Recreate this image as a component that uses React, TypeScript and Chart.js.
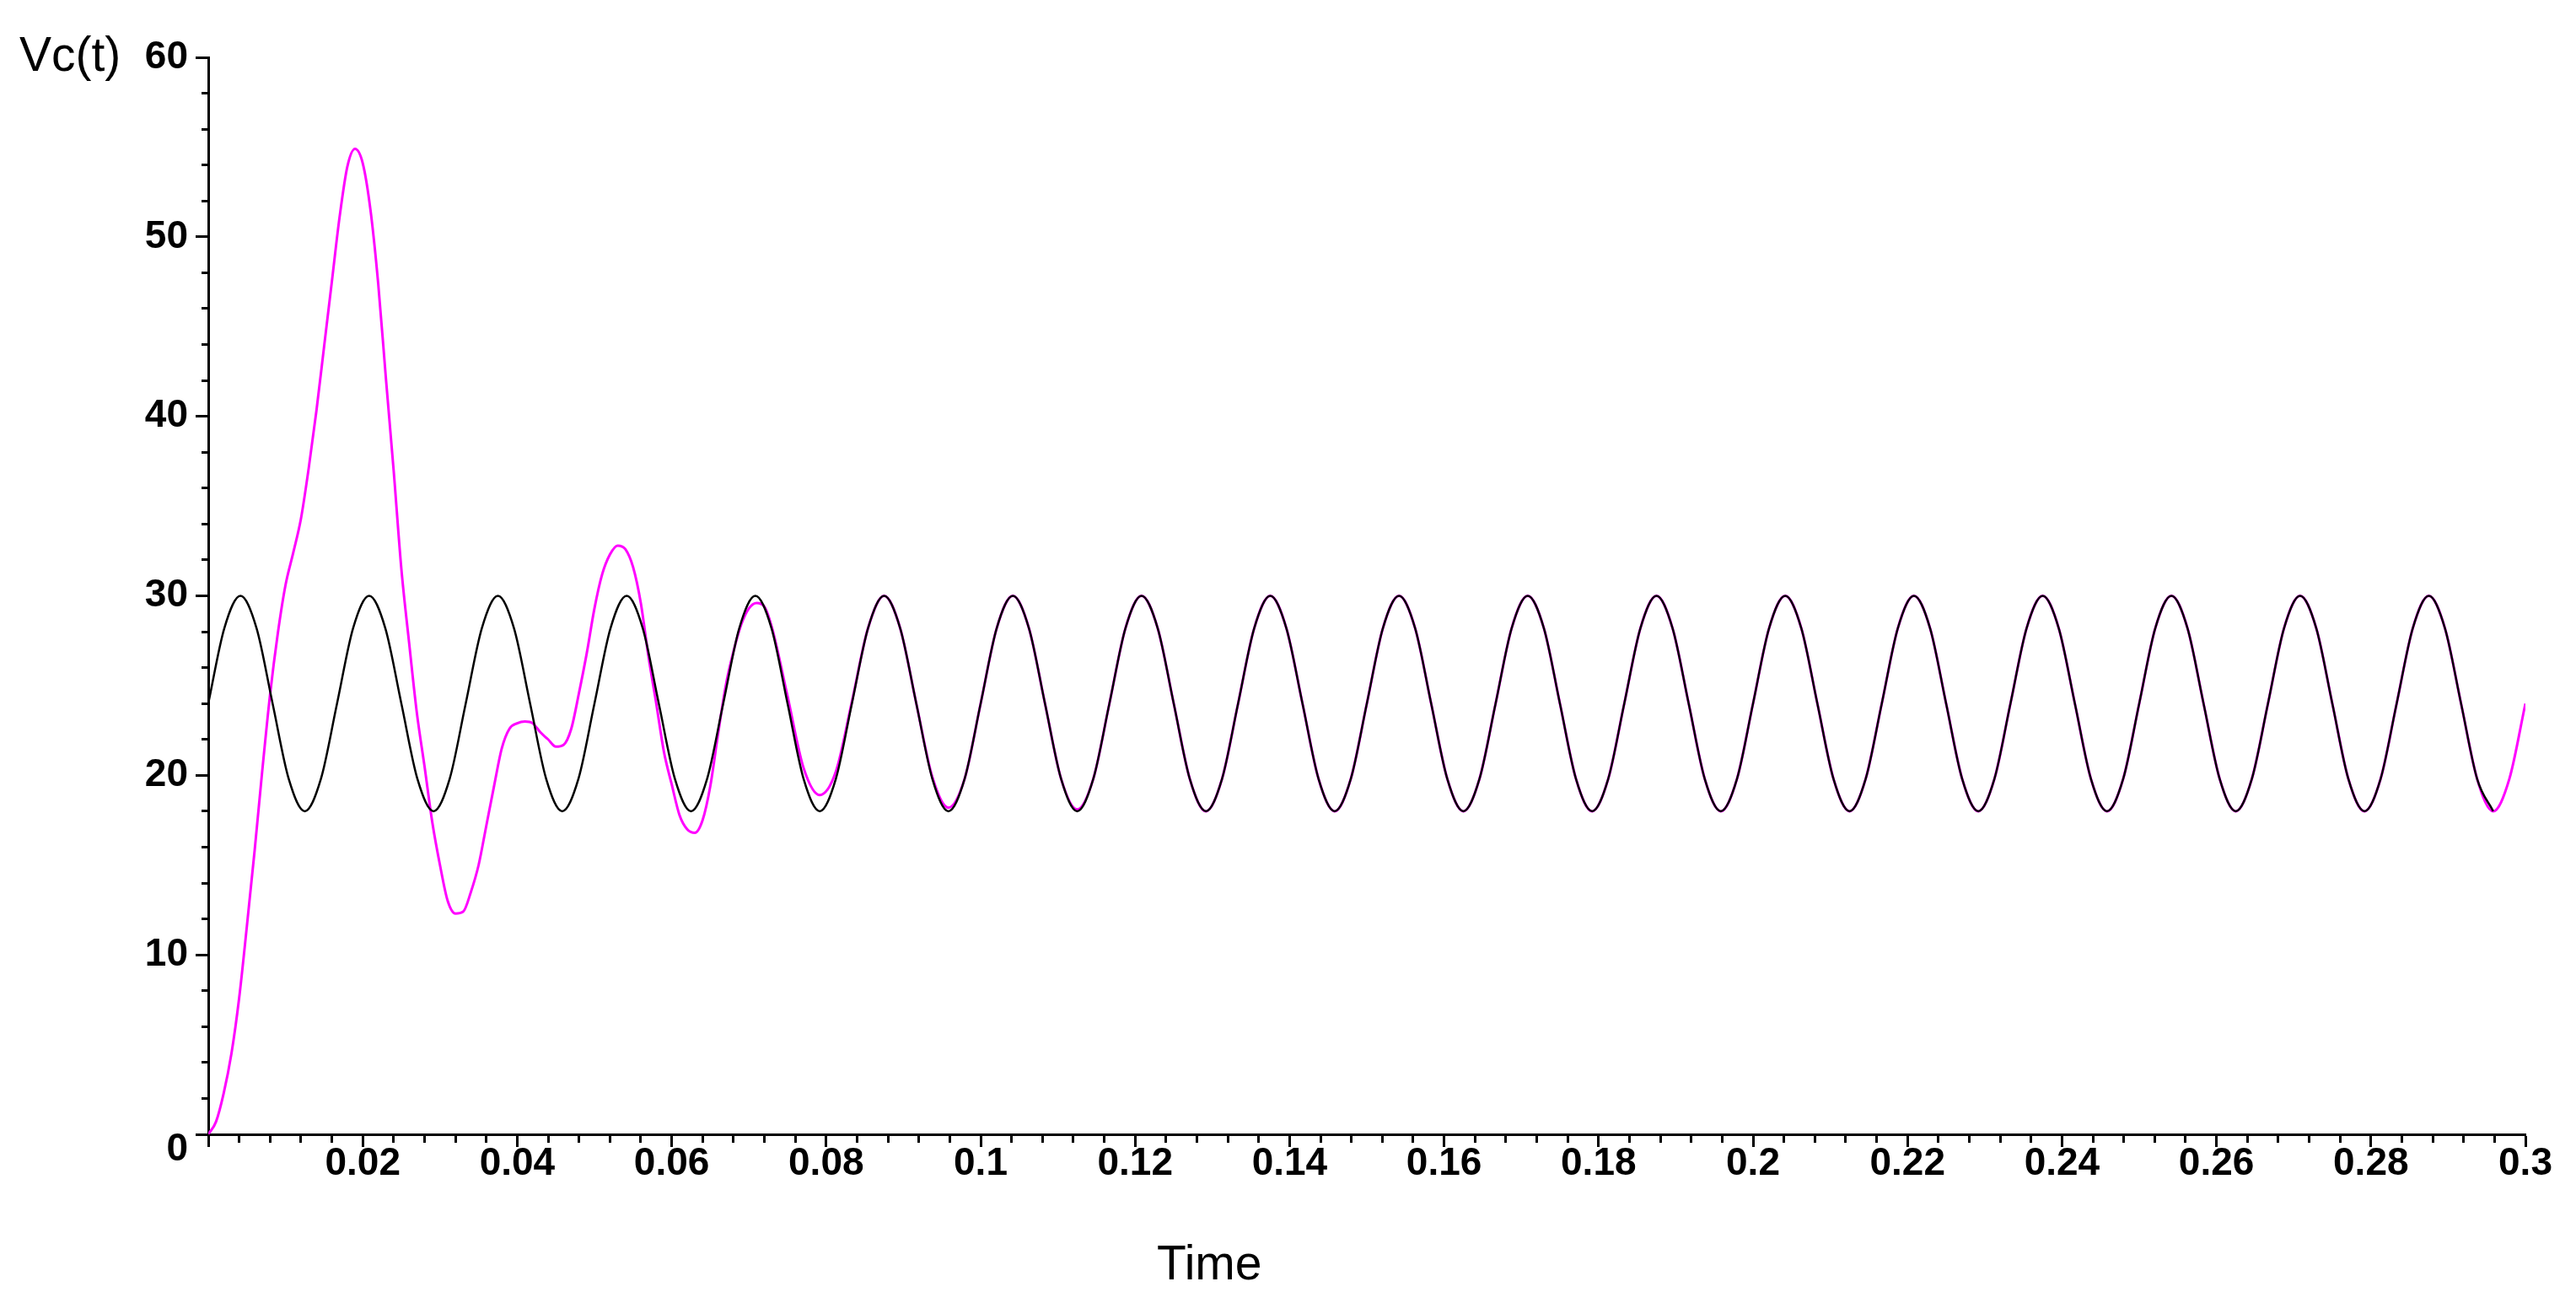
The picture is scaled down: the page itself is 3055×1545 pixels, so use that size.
import React, { useEffect, useRef } from 'react';
import { Chart, registerables } from 'chart.js';

Chart.register(...registerables);

// Shared time grid (s), one sample every 1/8 of the 60 Hz period
const gridTimes = [
  0, 0.00208, 0.00417, 0.00625, 0.00833, 0.01042, 0.0125, 0.01458,
  0.01667, 0.01875, 0.02083, 0.02292, 0.025, 0.02708, 0.02917, 0.03125,
  0.03333, 0.03542, 0.0375, 0.03958, 0.04167, 0.04375, 0.04583, 0.04792,
  0.05, 0.05208, 0.05417, 0.05625, 0.05833, 0.06042, 0.0625, 0.06458,
  0.06667, 0.06875, 0.07083, 0.07292, 0.075, 0.07708, 0.07917, 0.08125,
  0.08333, 0.08542, 0.0875, 0.08958, 0.09167, 0.09375, 0.09583, 0.09792,
  0.1, 0.10208, 0.10417, 0.10625, 0.10833, 0.11042, 0.1125, 0.11458,
  0.11667, 0.11875, 0.12083, 0.12292, 0.125, 0.12708, 0.12917, 0.13125,
  0.13333, 0.13542, 0.1375, 0.13958, 0.14167, 0.14375, 0.14583, 0.14792,
  0.15, 0.15208, 0.15417, 0.15625, 0.15833, 0.16042, 0.1625, 0.16458,
  0.16667, 0.16875, 0.17083, 0.17292, 0.175, 0.17708, 0.17917, 0.18125,
  0.18333, 0.18542, 0.1875, 0.18958, 0.19167, 0.19375, 0.19583, 0.19792,
  0.2, 0.20208, 0.20417, 0.20625, 0.20833, 0.21042, 0.2125, 0.21458,
  0.21667, 0.21875, 0.22083, 0.22292, 0.225, 0.22708, 0.22917, 0.23125,
  0.23333, 0.23542, 0.2375, 0.23958, 0.24167, 0.24375, 0.24583, 0.24792,
  0.25, 0.25208, 0.25417, 0.25625, 0.25833, 0.26042, 0.2625, 0.26458,
  0.26667, 0.26875, 0.27083, 0.27292, 0.275, 0.27708, 0.27917, 0.28125,
  0.28333, 0.28542, 0.2875, 0.28958, 0.29167, 0.29375, 0.29583, 0.29792,
  0.3,
];

// Black curve: steady-state Vc(t) read on gridTimes (ends at the last trough)
const steadyValues = [
  24, 28.2, 30, 28.2, 24, 19.8, 18, 19.8,
  24, 28.2, 30, 28.2, 24, 19.8, 18, 19.8,
  24, 28.2, 30, 28.2, 24, 19.8, 18, 19.8,
  24, 28.2, 30, 28.2, 24, 19.8, 18, 19.8,
  24, 28.2, 30, 28.2, 24, 19.8, 18, 19.8,
  24, 28.2, 30, 28.2, 24, 19.8, 18, 19.8,
  24, 28.2, 30, 28.2, 24, 19.8, 18, 19.8,
  24, 28.2, 30, 28.2, 24, 19.8, 18, 19.8,
  24, 28.2, 30, 28.2, 24, 19.8, 18, 19.8,
  24, 28.2, 30, 28.2, 24, 19.8, 18, 19.8,
  24, 28.2, 30, 28.2, 24, 19.8, 18, 19.8,
  24, 28.2, 30, 28.2, 24, 19.8, 18, 19.8,
  24, 28.2, 30, 28.2, 24, 19.8, 18, 19.8,
  24, 28.2, 30, 28.2, 24, 19.8, 18, 19.8,
  24, 28.2, 30, 28.2, 24, 19.8, 18, 19.8,
  24, 28.2, 30, 28.2, 24, 19.8, 18, 19.8,
  24, 28.2, 30, 28.2, 24, 19.8, 18, 19.8,
  24, 28.2, 30, 28.2, 24, 19.8, 18,
];

// Magenta curve, start-up transient (s)
const transientTimes = [
  0, 0.001, 0.002, 0.003, 0.004, 0.005, 0.006, 0.007, 0.008, 0.009,
  0.01, 0.011, 0.012, 0.013, 0.014, 0.015, 0.016, 0.017, 0.018, 0.019,
  0.02, 0.021, 0.022, 0.023, 0.024, 0.025, 0.026, 0.027, 0.028, 0.029,
  0.03, 0.031, 0.032, 0.033, 0.034, 0.035, 0.036, 0.037, 0.038, 0.039,
  0.04, 0.041, 0.042, 0.043, 0.044, 0.045, 0.046, 0.047, 0.048, 0.049,
  0.05, 0.051, 0.052, 0.053, 0.054, 0.055, 0.056, 0.057, 0.058, 0.059,
  0.06, 0.061, 0.062, 0.063, 0.064, 0.065, 0.066, 0.067, 0.068, 0.069,
  0.07, 0.071, 0.072, 0.073,
];
const transientValues = [
  0, 0.7, 2.3, 4.5, 7.6, 11.6, 15.8, 20.3, 24.5, 27.9,
  30.6, 32.4, 34.3, 37.1, 40.3, 43.9, 47.5, 51.1, 53.9, 54.9,
  54.1, 51.5, 47.4, 42.1, 37.0, 31.5, 27.4, 23.5, 20.5, 17.4,
  15.0, 13.0, 12.3, 12.4, 13.5, 15.0, 17.2, 19.4, 21.5, 22.6,
  22.9, 23.0, 22.9, 22.4, 22.0, 21.6, 21.7, 22.6, 24.6, 26.8,
  29.3, 31.2, 32.3, 32.8, 32.6, 31.6, 29.6, 26.6, 24.0, 21.3,
  19.5, 17.8, 17.0, 16.8, 17.5, 19.4, 22.3, 25.0, 26.9, 28.4,
  29.3, 29.6, 29.4, 28.2,
];

// Magenta curve after the transient, read on gridTimes from index 36 (0.075 s) to 0.3 s
const tailStartIndex = 36;
const tailValues = [
  24.4, 20.4, 18.9, 20.2,
  24.1, 28.2, 30, 28.2, 24, 19.9, 18.2, 19.8,
  24, 28.2, 30, 28.2, 24, 19.8, 18.1, 19.8,
  24, 28.2, 30, 28.2, 24, 19.8, 18, 19.8,
  24, 28.2, 30, 28.2, 24, 19.8, 18, 19.8,
  24, 28.2, 30, 28.2, 24, 19.8, 18, 19.8,
  24, 28.2, 30, 28.2, 24, 19.8, 18, 19.8,
  24, 28.2, 30, 28.2, 24, 19.8, 18, 19.8,
  24, 28.2, 30, 28.2, 24, 19.8, 18, 19.8,
  24, 28.2, 30, 28.2, 24, 19.8, 18, 19.8,
  24, 28.2, 30, 28.2, 24, 19.8, 18, 19.8,
  24, 28.2, 30, 28.2, 24, 19.8, 18, 19.8,
  24, 28.2, 30, 28.2, 24, 19.8, 18, 19.8,
  24, 28.2, 30, 28.2, 24, 19.8, 18, 19.8,
  24,
];

// Axes (x in milliseconds internally, labelled in seconds)
const xMinMs = 0;
const xMaxMs = 300;
const xMinorStepMs = 4;
const xMajorStepMs = 20;
const yMin = 0;
const yMax = 60;
const yMinorStep = 2;
const yMajorStep = 10;

const TICK_FONT = '"Liberation Sans", Arial, sans-serif';

export default function App() {
  const canvasRef = useRef<HTMLCanvasElement | null>(null);

  useEffect(() => {
    const canvas = canvasRef.current;
    if (!canvas) return;

    const steady = steadyValues.map((v, i) => ({ x: gridTimes[i] * 1000, y: v }));
    const full = [
      ...transientTimes.map((t, i) => ({ x: t * 1000, y: transientValues[i] })),
      ...tailValues.map((v, i) => ({ x: gridTimes[tailStartIndex + i] * 1000, y: v })),
    ];

    const chart = new Chart(canvas, {
      type: 'line',
      data: {
        datasets: [
          {
            label: 'steady',
            data: steady,
            borderColor: '#000000',
            borderWidth: 2.5,
            pointRadius: 0,
            fill: false,
            cubicInterpolationMode: 'monotone',
            order: 0,
          },
          {
            label: 'full',
            data: full,
            borderColor: '#FF00FF',
            borderWidth: 3,
            pointRadius: 0,
            fill: false,
            cubicInterpolationMode: 'monotone',
            order: 1,
          },
        ],
      },
      options: {
        responsive: false,
        animation: false,
        devicePixelRatio: 1,
        layout: { padding: { left: 0, top: 68, right: 60, bottom: 0 } },
        plugins: {
          legend: { display: false },
          tooltip: { enabled: false },
          title: { display: false },
        },
        events: [],
        scales: {
          x: {
            type: 'linear',
            min: xMinMs,
            max: xMaxMs,
            offset: false,
            border: { display: true, color: '#000', width: 3 },
            grid: {
              display: true,
              drawOnChartArea: false,
              drawTicks: true,
              tickLength: 15,
              tickWidth: 3,
              tickColor: '#000',
              tickBorderDash: (ctx: any) =>
                ctx.tick && ctx.tick.value % xMajorStepMs !== 0 ? [8, 100] : [],
            },
            ticks: {
              stepSize: xMinorStepMs,
              autoSkip: false,
              maxRotation: 0,
              minRotation: 0,
              padding: 0,
              color: '#000',
              font: { family: TICK_FONT, size: 46, weight: 'bold', lineHeight: 0.9 },
              callback: (value: any) => {
                const v = Number(value);
                if (v === 0 || v % xMajorStepMs !== 0) return '';
                return String(v / 1000);
              },
            },
            afterFit: (scale: any) => {
              scale.height = 200;
            },
          },
          y: {
            type: 'linear',
            min: yMin,
            max: yMax,
            border: { display: true, color: '#000', width: 3 },
            grid: {
              display: true,
              drawOnChartArea: false,
              drawTicks: true,
              tickLength: 15,
              tickWidth: 3,
              tickColor: '#000',
              tickBorderDash: (ctx: any) =>
                ctx.tick && ctx.tick.value % yMajorStep !== 0 ? [0, 7, 8, 100] : [],
            },
            ticks: {
              stepSize: yMinorStep,
              autoSkip: false,
              padding: 9,
              color: '#000',
              font: { family: TICK_FONT, size: 46, weight: 'bold', lineHeight: '36px' },
              callback: (value: any) => {
                const v = Number(value);
                if (v % yMajorStep !== 0) return '';
                if (v === 0) return ['', '0'];
                return String(v);
              },
            },
            afterFit: (scale: any) => {
              scale.width = 247;
            },
          },
        },
      } as any,
    });

    return () => {
      chart.destroy();
    };
  }, []);

  return (
    <div
      style={{
        position: 'fixed',
        left: 0,
        top: 0,
        width: 3055,
        height: 1545,
        background: '#ffffff',
        overflow: 'hidden',
      }}
    >
      <canvas
        ref={canvasRef}
        width={3055}
        height={1545}
        style={{ display: 'block', width: 3055, height: 1545 }}
      />
      <div
        style={{
          position: 'absolute',
          left: 23,
          top: 36,
          fontFamily: '"Liberation Sans", Arial, sans-serif',
          fontSize: 57,
          lineHeight: '57px',
          color: '#000',
          whiteSpace: 'nowrap',
        }}
      >
        Vc(t)
      </div>
      <div
        style={{
          position: 'absolute',
          left: 1372,
          top: 1469,
          fontFamily: '"Liberation Sans", Arial, sans-serif',
          fontSize: 57,
          lineHeight: '57px',
          color: '#000',
          whiteSpace: 'nowrap',
        }}
      >
        Time
      </div>
    </div>
  );
}
